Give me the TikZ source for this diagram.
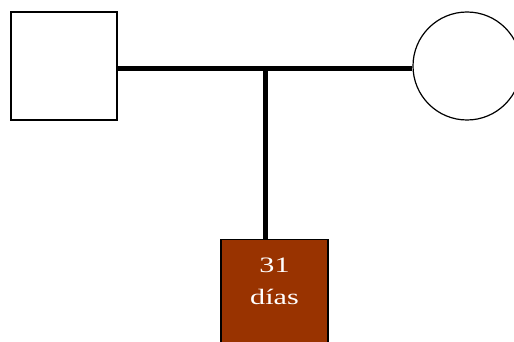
\documentclass[tikz,border=0pt]{standalone}
\usepackage{fontspec}
\setmainfont{Liberation Serif}
\definecolor{rust}{HTML}{993300}
\newcommand{\widetext}[1]{\scalebox{1.37}[1]{#1}}
\tikzset{
  person/.style={draw=black, line width=1.2pt, fill=white, inner sep=0pt},
  bond/.style={line width=5pt},
  agelabel/.style={text=white, font=\fontsize{22}{32}\selectfont, align=center, inner sep=0pt},
}
\begin{document}
\begin{tikzpicture}[x=1pt,y=-1pt]
\useasboundingbox (0,0) rectangle (514,342);
% father and mother
\node[person, minimum width=106pt, minimum height=108pt] (father) at (64,66) {};
\node[person, circle, minimum size=108pt] (mother) at (467,66) {};
% child with its age
\node[person, fill=rust, minimum width=107pt, minimum height=108pt, anchor=north,
      label={[agelabel, anchor=north, yshift=-19pt]north:\widetext{31}\\\widetext{días}}]
      (child) at (274.5,239) {};
\coordinate (mid) at (265,69);
\draw[bond] (father.east |- mid) -- (mother.west |- mid);
\draw[bond] (mid) -- (mid |- child.north);
\end{tikzpicture}
\end{document}
